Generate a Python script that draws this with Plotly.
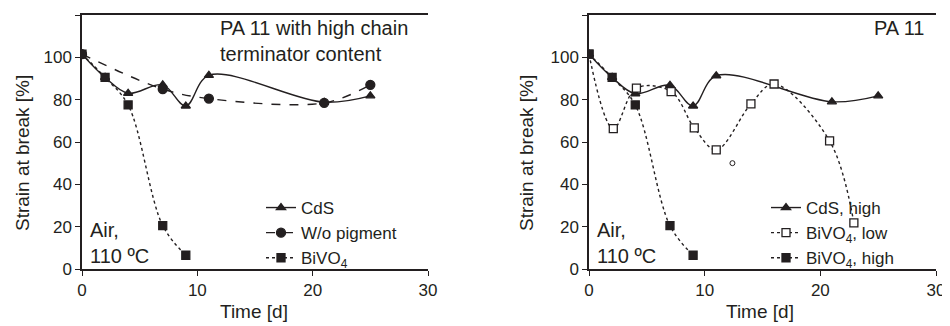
import plotly.graph_objects as go
from plotly.subplots import make_subplots

# ---- data (left panel: PA 11 with high chain terminator content) ----
L_cds_t = [0, 2, 4, 7, 9, 11, 21, 25]
L_cds_v = [101.5, 90.5, 83, 87, 77, 91.5, 78.8, 81.8]
L_wo_t = [0, 7, 11, 21, 25]
L_wo_v = [101.5, 85, 80.5, 78.5, 87]
L_bi_t = [0, 2, 4, 7, 9]
L_bi_v = [101.5, 90.5, 77.5, 20.5, 6.5]

# ---- data (right panel: PA 11) ----
R_cds_t = [0, 2, 4, 7, 9, 11, 21, 25]
R_cds_v = [101.5, 90.5, 82.8, 86.8, 77, 91.3, 79, 81.8]
R_low_t = [0, 2.1, 4.1, 7.1, 9.1, 11, 14, 16, 20.8, 22.9]
R_low_v = [101.5, 66.3, 85.5, 83.8, 66.7, 56.3, 78, 87.4, 60.5, 21.8]
R_high_t = [0, 2, 4, 7, 9]
R_high_v = [101.5, 90.5, 77.5, 20.5, 6.5]
R_stray_t = [12.4]
R_stray_v = [50]

names_left = ["CdS", "W/o pigment", "BiVO<sub>4</sub>"]
names_right = ["CdS, high", "BiVO<sub>4</sub>, low", "BiVO<sub>4</sub>, high"]
x_ticks = [0, 10, 20, 30]
y_ticks = [0, 20, 40, 60, 80, 100, 120]

INK = "#231f20"
FONT = "Liberation Sans, Arial, sans-serif"
FS_TICK = 17
FS_TITLE = 19
FS_ANN = 20
FS_LEG = 17

# page body has an 8px margin: work in reference pixels and shift
W, H, OFF = 942, 318, 8
def px(x):
    return (x - OFF) / W
def py(y):
    return 1 - (y - OFF) / H

fig = make_subplots(rows=1, cols=2)

def add(t, v, name, dash, symbol, msize, col, legend, fill=INK):
    fig.add_trace(go.Scatter(
        x=t, y=v, name=name, mode="lines+markers",
        line=dict(color=INK, width=1.4, dash=dash, shape="spline", smoothing=1.0),
        marker=dict(symbol=symbol, size=msize, color=fill, line=dict(color=INK, width=1.3)),
        legend=legend), row=1, col=col)

add(L_cds_t, L_cds_v, names_left[0], "solid", "triangle-up", 8, 1, "legend")
add(L_wo_t, L_wo_v, names_left[1], "dash", "circle", 9, 1, "legend")
add(L_bi_t, L_bi_v, names_left[2], "dot", "square", 8, 1, "legend")

add(R_cds_t, R_cds_v, names_right[0], "solid", "triangle-up", 8, 2, "legend2")
add(R_low_t, R_low_v, names_right[1], "dot", "square", 8, 2, "legend2", fill="white")
add(R_high_t, R_high_v, names_right[2], "dot", "square", 8, 2, "legend2")
fig.add_trace(go.Scatter(x=R_stray_t, y=R_stray_v, mode="markers",
                         marker=dict(symbol="circle-open", size=5, color=INK, line=dict(width=1)),
                         showlegend=False), row=1, col=2)

xdoms = [[px(82), px(428)], [px(589), px(936)]]
ydom = [py(269), py(15)]

for i, ax in enumerate(["xaxis", "xaxis2"]):
    fig.layout[ax].update(domain=xdoms[i], range=[0, 30], tickvals=x_ticks,
                          showgrid=False, zeroline=False, showline=True, linecolor=INK, linewidth=1.5,
                          mirror=True, ticks="outside", ticklen=5, tickcolor=INK, tickwidth=1.3,
                          tickfont=dict(family=FONT, size=FS_TICK, color=INK),
                          automargin=False)
for ax in ["yaxis", "yaxis2"]:
    fig.layout[ax].update(domain=ydom, range=[0, 120], tickvals=y_ticks,
                          showgrid=False, zeroline=False, showline=True, linecolor=INK, linewidth=1.5,
                          mirror=False, ticks="outside", ticklen=5, tickcolor=INK, tickwidth=1.3,
                          tickfont=dict(family=FONT, size=FS_TICK, color=INK),
                          automargin=False)

leg_common = dict(bgcolor="rgba(0,0,0,0)", font=dict(family=FONT, size=FS_LEG, color=INK),
                  xanchor="left", yanchor="top", tracegroupgap=0, itemwidth=30)
fig.update_layout(
    width=W, height=H, margin=dict(l=0, r=0, t=0, b=0),
    paper_bgcolor="white", plot_bgcolor="white",
    legend=dict(x=px(261), y=py(190), **leg_common),
    legend2=dict(x=px(766), y=py(190), **leg_common),
    font=dict(family=FONT, size=FS_ANN, color=INK),
)

ann = dict(showarrow=False, font=dict(family=FONT, size=FS_ANN, color=INK), align="left")
fig.add_annotation(text="PA 11 with high chain<br>terminator content", xref="paper", yref="paper",
                   x=px(218), y=py(15), xanchor="left", yanchor="top", **ann)
fig.add_annotation(text="Air,<br>110 ºC", xref="paper", yref="paper",
                   x=px(88), y=py(217), xanchor="left", yanchor="top", **ann)
fig.add_annotation(text="PA 11", xref="paper", yref="paper",
                   x=px(926), y=py(15), xanchor="right", yanchor="top", **ann)
fig.add_annotation(text="Air,<br>110 ºC", xref="paper", yref="paper",
                   x=px(595), y=py(217), xanchor="left", yanchor="top", **ann)

# axis titles
tt = dict(showarrow=False, font=dict(family=FONT, size=FS_TITLE, color=INK),
          xref="paper", yref="paper", xanchor="center", yanchor="middle")
fig.add_annotation(text="Time [d]", x=px(254), y=py(311), **tt)
fig.add_annotation(text="Time [d]", x=px(760), y=py(311), **tt)
fig.add_annotation(text="Strain at break [%]", x=px(22), y=py(153), textangle=-90, **tt)
fig.add_annotation(text="Strain at break [%]", x=px(526), y=py(153), textangle=-90, **tt)

fig.write_html("out.html")
